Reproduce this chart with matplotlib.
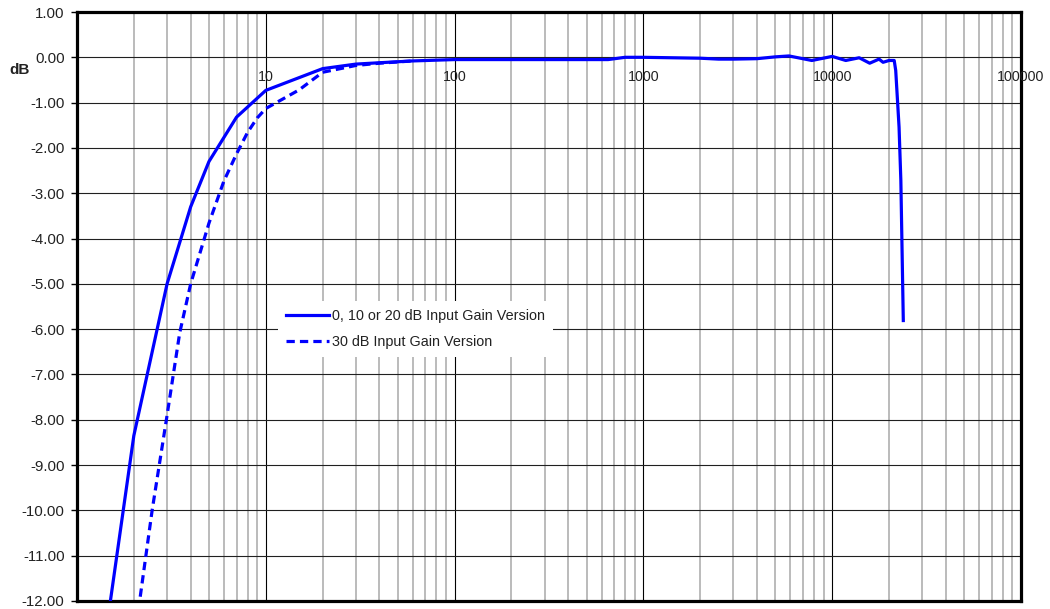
import matplotlib
matplotlib.use("Agg")
import matplotlib.pyplot as plt
from matplotlib.ticker import LogLocator, NullFormatter, FixedLocator

# ---- data ----
freq_solid = [1, 2, 3, 4, 5, 7, 10, 20, 30, 40, 60, 100, 200, 500, 650, 800, 1000,
              2000, 2500, 3000, 4000, 5000, 5900, 7800, 10000, 11800, 13900, 15800,
              17700, 18600, 20000, 21300, 21700, 22600, 23100, 23800]
gain_solid = [-17.2, -8.35, -5.0, -3.3, -2.3, -1.32, -0.73, -0.25, -0.15, -0.12, -0.08,
              -0.05, -0.05, -0.05, -0.05, 0.0, 0.0, -0.02, -0.04, -0.04, -0.03, 0.01,
              0.03, -0.07, 0.02, -0.07, -0.01, -0.13, -0.04, -0.11, -0.07, -0.07,
              -0.29, -1.54, -2.72, -5.81]

freq_dash = [2, 2.5, 3, 3.5, 4, 5, 6, 7, 8, 9, 10, 15, 20, 30, 40, 60]
gain_dash = [-12.93, -10.0, -7.9, -6.08, -5.0, -3.66, -2.73, -2.13, -1.66, -1.34, -1.13,
             -0.72, -0.33, -0.18, -0.13, -0.08]

label_solid = "0, 10 or 20 dB Input Gain Version"
label_dash = "30 dB Input Gain Version"

y_ticks = [1, 0, -1, -2, -3, -4, -5, -6, -7, -8, -9, -10, -11, -12]
x_decades = [10, 100, 1000, 10000, 100000]
x_labels = ["10", "100", "1000", "10000", "100000"]

# ---- figure ----
plt.rcParams['font.family'] = ['Liberation Sans', 'DejaVu Sans']
fig = plt.figure(figsize=(10.5, 6.09), dpi=100)
ax = fig.add_axes([77 / 1050, 8 / 609, 944 / 1050, 589 / 609])

blue = '#0000ff'
ax.plot(freq_solid, gain_solid, color=blue, lw=2.3, label=label_solid, zorder=4,
        solid_joinstyle='round')
ax.plot(freq_dash, gain_dash, color=blue, lw=2.3, ls=(0, (2.6, 1.6)), label=label_dash,
        zorder=3)

ax.set_xscale('log')
ax.set_xlim(1, 100000)
ax.set_ylim(-12, 1)

ax.set_yticks(y_ticks)
ax.set_yticklabels([f"{v:.2f}" for v in y_ticks])
ax.tick_params(axis='y', direction='out', length=4, width=1, pad=5,
               labelsize=10.8, labelcolor='#222222')

ax.xaxis.set_major_locator(FixedLocator([1] + x_decades))
ax.xaxis.set_minor_locator(LogLocator(base=10, subs=range(2, 10)))
ax.xaxis.set_minor_formatter(NullFormatter())
ax.tick_params(axis='x', which='both', length=0, labelbottom=False)

ax.grid(True, axis='y', color='#202020', lw=0.8, zorder=1)
ax.grid(True, axis='x', which='major', color='#000000', lw=0.8, zorder=1)
ax.grid(True, axis='x', which='minor', color='#a8a8a8', lw=1.1, zorder=1)
ax.set_axisbelow(True)

for s in ax.spines.values():
    s.set_linewidth(2.3)
    s.set_color('black')

for xv, lab in zip(x_decades, x_labels):
    ax.text(xv, -0.28, lab, ha='center', va='top', fontsize=10.3, color='#222222',
            clip_on=False, zorder=5)

fig.text(20 / 1050, 1 - 70 / 609, "dB", ha='center', va='center', fontsize=11,
         fontweight='bold', color='#222222')

leg = ax.legend(loc='lower left', bbox_to_anchor=(0.213, 0.414), frameon=True,
                fancybox=False, framealpha=1, facecolor='white', edgecolor='none',
                fontsize=10.4, handlelength=3.0, handletextpad=0.2, labelspacing=0.85,
                borderpad=0.55, borderaxespad=0)
for t in leg.get_texts():
    t.set_color('#222222')

fig.savefig("out.png", dpi=100)
